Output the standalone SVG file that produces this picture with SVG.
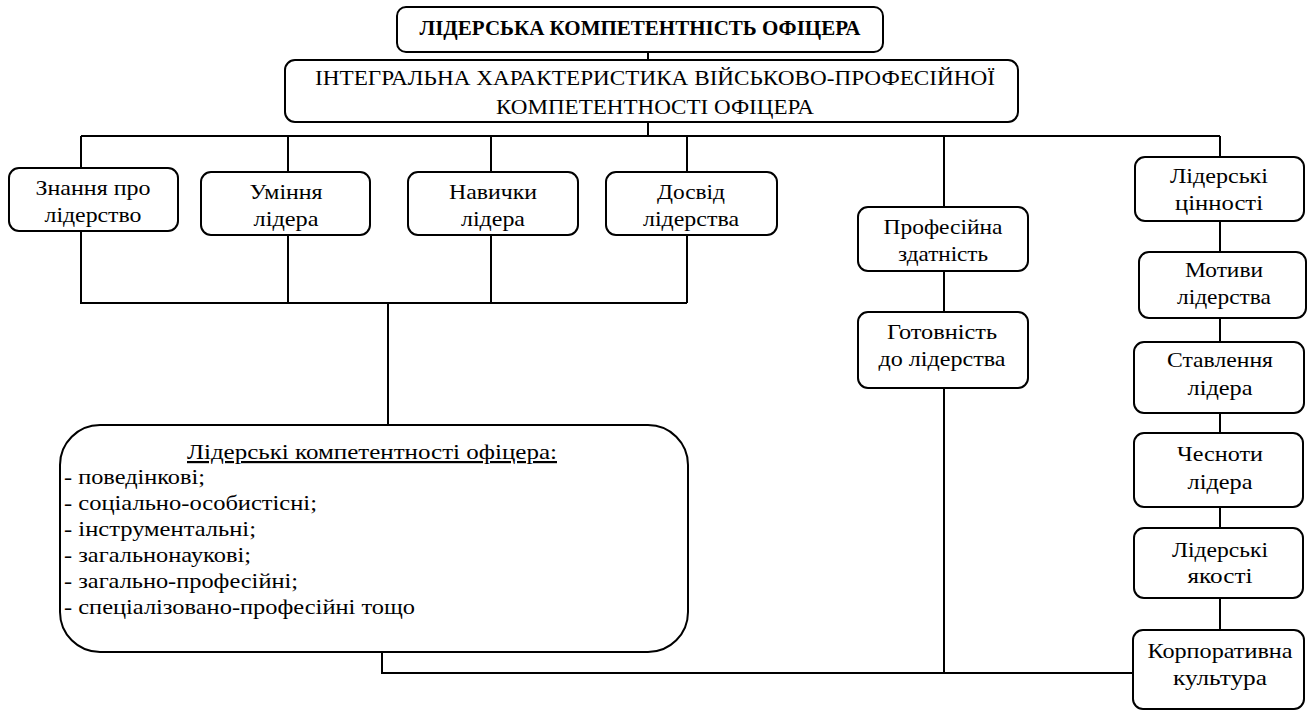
<svg xmlns="http://www.w3.org/2000/svg" width="1309" height="711" viewBox="0 0 1309 711">
<style>
.b{fill:#fff;stroke:#000;stroke-width:2}
.c{fill:none;stroke:#000;stroke-width:2}
.m{text-anchor:middle}
.t{font-weight:bold}
text{font-family:"Times New Roman","Liberation Serif",Tinos,"Noto Serif","DejaVu Serif",serif;font-size:22px;fill:#000}
</style>
<rect width="1309" height="711" fill="#fff"/>
<g id="connectors">
<path class="c" d="M648 52V60M648 122V136M81 136H1220M81 136V168M288 136V172M491 136V172M687 136V172M944 136V207M1220 136V157"/>
<path class="c" d="M81 231V303H687M288 235V303M491 235V303M687 235V303M388 303V425"/>
<path class="c" d="M944 271V312M944 388V673M382 652V673H1133"/>
<path class="c" d="M1220 221V252M1220 318V342M1220 413V433M1220 507V528M1220 598V630"/>
</g>
<g id="n-title"><rect class="b" x="397" y="7" width="486" height="45" rx="9"/><text class="m t" x="640" y="35" textLength="441" lengthAdjust="spacingAndGlyphs">ЛІДЕРСЬКА КОМПЕТЕНТНІСТЬ ОФІЦЕРА</text></g>
<g id="n-integral"><rect class="b" x="285" y="60" width="733" height="62" rx="10"/><text class="m" x="655" y="85" textLength="680" lengthAdjust="spacingAndGlyphs">ІНТЕГРАЛЬНА ХАРАКТЕРИСТИКА ВІЙСЬКОВО-ПРОФЕСІЙНОЇ</text><text class="m" x="655" y="114" textLength="318" lengthAdjust="spacingAndGlyphs">КОМПЕТЕНТНОСТІ ОФІЦЕРА</text></g>
<g id="n-knowledge"><rect class="b" x="9" y="168" width="169" height="63" rx="10"/><text class="m" x="93" y="195" textLength="115" lengthAdjust="spacingAndGlyphs">Знання про</text><text class="m" x="93" y="222" textLength="97" lengthAdjust="spacingAndGlyphs">лідерство</text></g>
<g id="n-skills"><rect class="b" x="201" y="172" width="169" height="63" rx="10"/><text class="m" x="286" y="199" textLength="73" lengthAdjust="spacingAndGlyphs">Уміння</text><text class="m" x="286" y="226" textLength="65" lengthAdjust="spacingAndGlyphs">лідера</text></g>
<g id="n-habits"><rect class="b" x="408" y="172" width="170" height="63" rx="10"/><text class="m" x="493" y="199" textLength="88" lengthAdjust="spacingAndGlyphs">Навички</text><text class="m" x="493" y="226" textLength="64" lengthAdjust="spacingAndGlyphs">лідера</text></g>
<g id="n-experience"><rect class="b" x="606" y="172" width="171" height="63" rx="10"/><text class="m" x="691" y="199" textLength="68" lengthAdjust="spacingAndGlyphs">Досвід</text><text class="m" x="691" y="226" textLength="96" lengthAdjust="spacingAndGlyphs">лідерства</text></g>
<g id="n-prof"><rect class="b" x="858" y="207" width="170" height="64" rx="10"/><text class="m" x="943" y="234" textLength="119" lengthAdjust="spacingAndGlyphs">Професійна</text><text class="m" x="943" y="261" textLength="90" lengthAdjust="spacingAndGlyphs">здатність</text></g>
<g id="n-ready"><rect class="b" x="858" y="312" width="170" height="76" rx="10"/><text class="m" x="942" y="339" textLength="110" lengthAdjust="spacingAndGlyphs">Готовність</text><text class="m" x="942" y="366" textLength="127" lengthAdjust="spacingAndGlyphs">до лідерства</text></g>
<g id="n-values"><rect class="b" x="1135" y="157" width="169" height="64" rx="10"/><text class="m" x="1219" y="183" textLength="98" lengthAdjust="spacingAndGlyphs">Лідерські</text><text class="m" x="1219" y="210" textLength="88" lengthAdjust="spacingAndGlyphs">цінності</text></g>
<g id="n-motives"><rect class="b" x="1139" y="252" width="167" height="66" rx="10"/><text class="m" x="1224" y="277" textLength="78" lengthAdjust="spacingAndGlyphs">Мотиви</text><text class="m" x="1224" y="304" textLength="94" lengthAdjust="spacingAndGlyphs">лідерства</text></g>
<g id="n-attitude"><rect class="b" x="1134" y="342" width="170" height="71" rx="10"/><text class="m" x="1220" y="367" textLength="106" lengthAdjust="spacingAndGlyphs">Ставлення</text><text class="m" x="1220" y="395" textLength="65" lengthAdjust="spacingAndGlyphs">лідера</text></g>
<g id="n-virtues"><rect class="b" x="1134" y="433" width="169" height="74" rx="10"/><text class="m" x="1220" y="461" textLength="86" lengthAdjust="spacingAndGlyphs">Чесноти</text><text class="m" x="1220" y="489" textLength="65" lengthAdjust="spacingAndGlyphs">лідера</text></g>
<g id="n-qualities"><rect class="b" x="1134" y="528" width="169" height="70" rx="10"/><text class="m" x="1220" y="557" textLength="96" lengthAdjust="spacingAndGlyphs">Лідерські</text><text class="m" x="1220" y="583" textLength="65" lengthAdjust="spacingAndGlyphs">якості</text></g>
<g id="n-culture"><rect class="b" x="1133" y="630" width="171" height="79" rx="10"/><text class="m" x="1220" y="658" textLength="145" lengthAdjust="spacingAndGlyphs">Корпоративна</text><text class="m" x="1220" y="685" textLength="94" lengthAdjust="spacingAndGlyphs">культура</text></g>
<g id="n-competencies"><rect class="b" x="60" y="425" width="628" height="227" rx="40"/>
<text class="m" x="372" y="459" text-decoration="underline" textLength="370" lengthAdjust="spacingAndGlyphs">Лідерські компетентності офіцера:</text>
<text x="64" y="484" textLength="141" lengthAdjust="spacingAndGlyphs">- поведінкові;</text>
<text x="64" y="510" textLength="253" lengthAdjust="spacingAndGlyphs">- соціально-особистісні;</text>
<text x="64" y="536" textLength="192" lengthAdjust="spacingAndGlyphs">- інструментальні;</text>
<text x="64" y="562" textLength="187" lengthAdjust="spacingAndGlyphs">- загальнонаукові;</text>
<text x="64" y="588" textLength="234" lengthAdjust="spacingAndGlyphs">- загально-професійні;</text>
<text x="64" y="614" textLength="351" lengthAdjust="spacingAndGlyphs">- спеціалізовано-професійні тощо</text>
</g>
</svg>
